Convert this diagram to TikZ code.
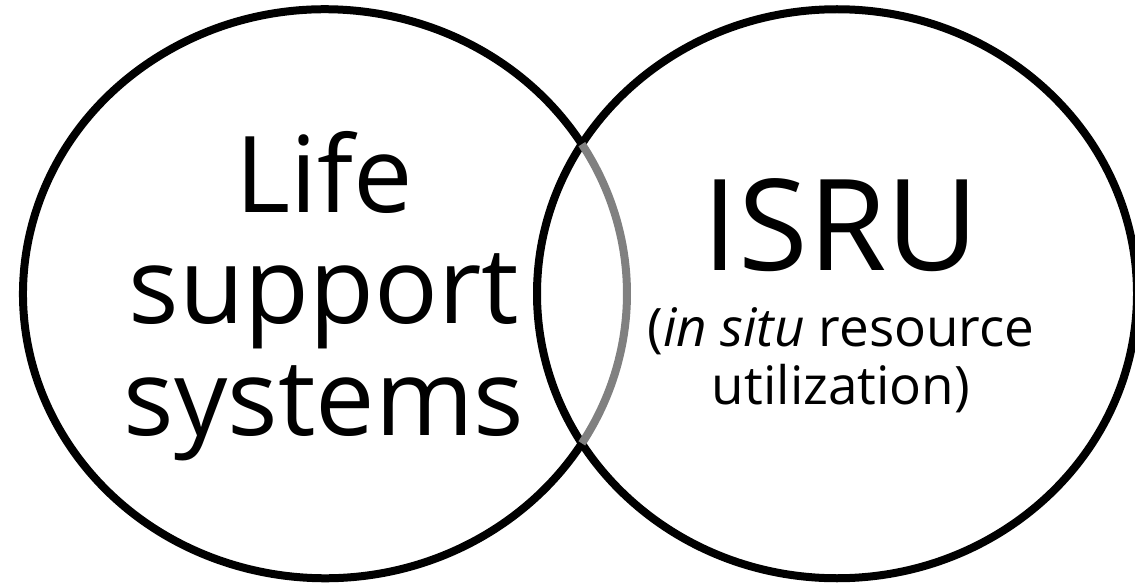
\documentclass[tikz,border=0pt]{standalone}
\usepackage{fontspec}
\setmainfont{Open Sans}
\usetikzlibrary{calc}
\definecolor{overlapgray}{HTML}{808080}
\tikzset{
  ring/.style={line width=8pt, draw=black},
  ringinner/.style={line width=8pt, draw=overlapgray},
  bigtitle/.style={inner sep=0pt, align=center, font=\fontsize{106}{111.5}\selectfont},
  isrutitle/.style={inner sep=0pt, font=\fontsize{127}{130}\selectfont},
  subtitle/.style={inner sep=0pt, align=center, font=\fontsize{53}{58}\selectfont}
}
\begin{document}
\begin{tikzpicture}[x=1pt,y=1pt]
  \useasboundingbox (0,0) rectangle (1135,582);
  \clip (0,0) rectangle (1135,582);
  \coordinate (lc) at (325,288.25);
  \coordinate (rc) at (837,288.25);
  % right set
  \draw[ring] (rc) ellipse [x radius=300, y radius=284.5];
  % left set: outer part black, part inside the right set grey
  \draw[ring] ($(lc)+(31.73:302 and 284.5)$)
     arc[start angle=31.73, end angle=328.27, x radius=302, y radius=284.5];
  \draw[ringinner] ($(lc)+(-31.73:302 and 284.5)$)
     arc[start angle=-31.73, end angle=31.73, x radius=302, y radius=284.5];
  % labels
  \node[bigtitle] (life) at (324,286.1) {Life\\support\\systems};
  \node[isrutitle, anchor=base] (isru) at (841,311.3) {ISRU};
  \node[subtitle] (isrusub) at (841,221.8) {(\textit{in situ} resource\\utilization)};
\end{tikzpicture}
\end{document}
